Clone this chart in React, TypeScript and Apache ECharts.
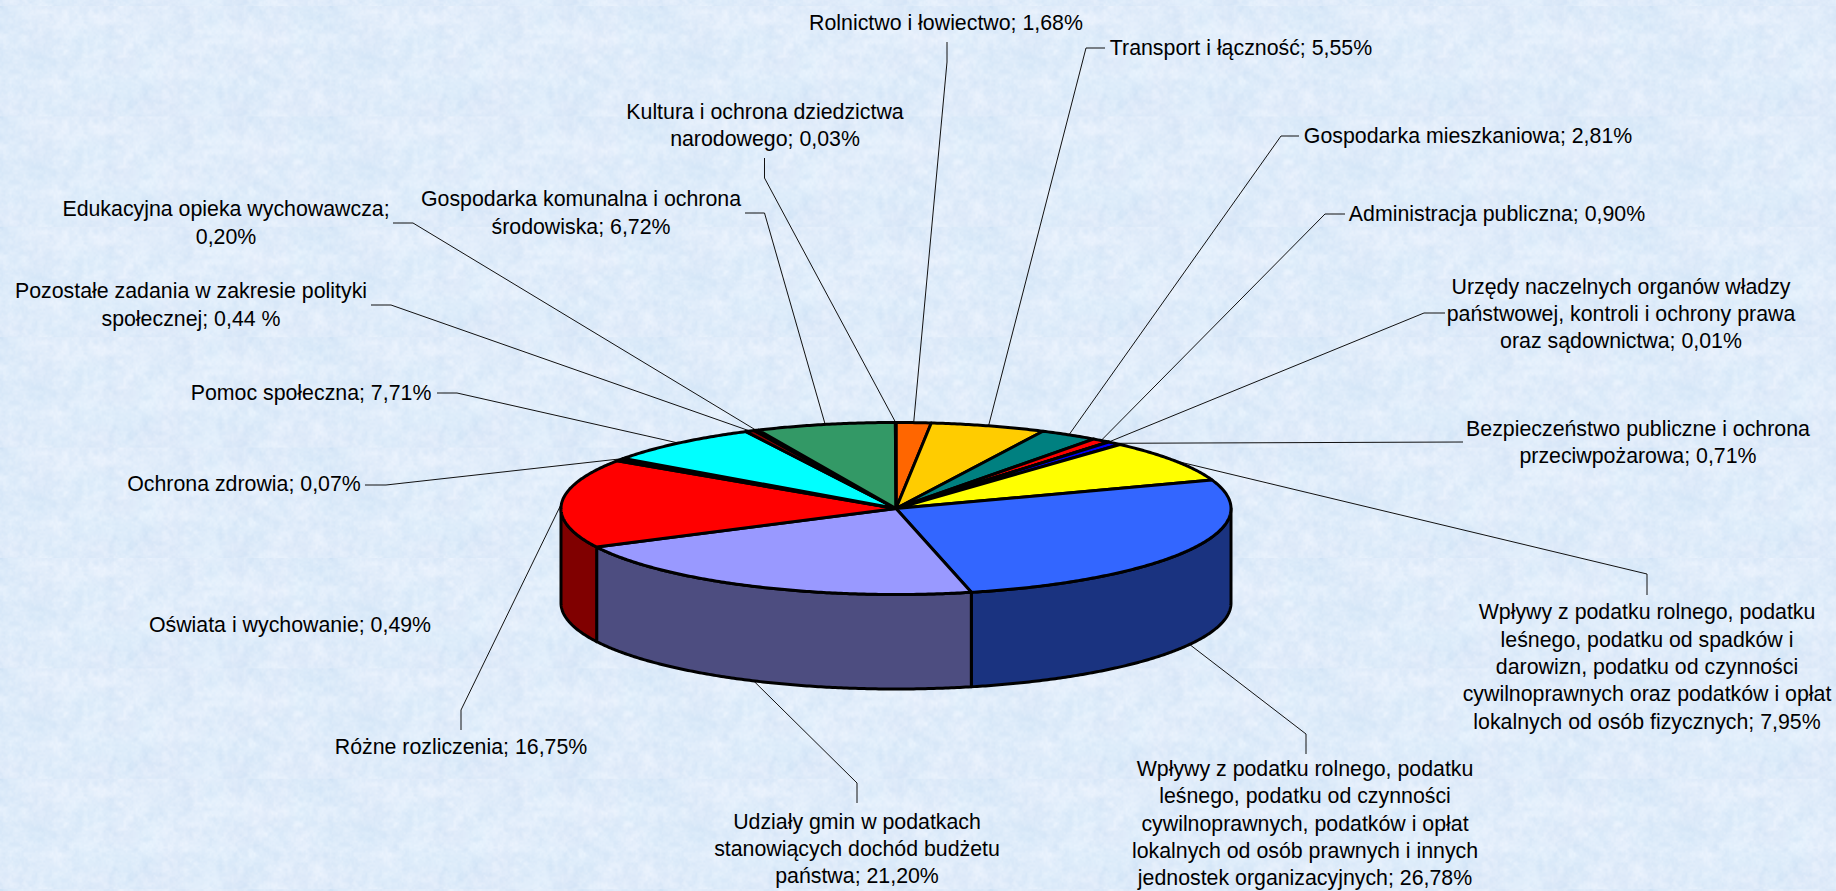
import React, { useEffect, useRef } from "react";
import * as echarts from "echarts";

// ---------- data (clockwise from 12 o'clock) ----------
const labels = [
  "Rolnictwo i łowiectwo; 1,68%",
  "Transport i łączność; 5,55%",
  "Gospodarka mieszkaniowa; 2,81%",
  "Administracja publiczna; 0,90%",
  "Urzędy naczelnych organów władzy\npaństwowej, kontroli i ochrony prawa\noraz sądownictwa; 0,01%",
  "Bezpieczeństwo publiczne i ochrona\nprzeciwpożarowa; 0,71%",
  "Wpływy z podatku rolnego, podatku\nleśnego, podatku od spadków i\ndarowizn, podatku od czynności\ncywilnoprawnych oraz podatków i opłat\nlokalnych od osób fizycznych; 7,95%",
  "Wpływy z podatku rolnego, podatku\nleśnego, podatku od czynności\ncywilnoprawnych, podatków i opłat\nlokalnych od osób prawnych i innych\njednostek organizacyjnych; 26,78%",
  "Udziały gmin w podatkach\nstanowiących dochód budżetu\npaństwa; 21,20%",
  "Różne rozliczenia; 16,75%",
  "Oświata i wychowanie; 0,49%",
  "Ochrona zdrowia; 0,07%",
  "Pomoc społeczna; 7,71%",
  "Pozostałe zadania w zakresie polityki\nspołecznej; 0,44 %",
  "Edukacyjna opieka wychowawcza;\n0,20%",
  "Gospodarka komunalna i ochrona\nśrodowiska; 6,72%",
  "Kultura i ochrona dziedzictwa\nnarodowego; 0,03%",
];
const values = [1.68, 5.55, 2.81, 0.9, 0.01, 0.71, 7.95, 26.78, 21.2, 16.75, 0.49, 0.07, 7.71, 0.44, 0.2, 6.72, 0.03];
const colors = [
  "#FF6600", "#FFCC00", "#008080", "#FF0000", "#993300", "#0000FF", "#FFFF00", "#3366FF", "#9999FF",
  "#FF0000", "#000000", "#000000", "#00FFFF", "#800000", "#006666", "#339966", "#000000",
];

// ---------- layout (pixels) ----------
const CX = 896, CY = 508.5, RX = 335, RY = 86, DEPTH = 94.5;
const labelCentres: number[][] = [
  [946, 23], [1241, 48], [1468, 136], [1497, 214], [1621, 314], [1638, 442.5], [1647, 667], [1305, 823.5],
  [857, 849], [461, 747], [290, 625], [244, 484], [311, 393], [191, 305], [226, 223], [581, 213], [765, 125.5],
];
const leaderStarts: (number[][] | null)[] = [
  [[947, 42], [947, 62]],
  [[1105, 48], [1086, 48]],
  [[1299, 136], [1281, 136]],
  [[1345, 214], [1325, 214]],
  [[1445, 313], [1424, 313]],
  [[1463, 442]],
  [[1647, 595], [1647, 574]],
  [[1306, 754], [1306, 734]],
  [[857, 803], [857, 783]],
  [[461, 730], [461, 710]],
  null,
  [[365, 485], [386, 485]],
  [[437, 393], [457, 393]],
  [[371, 305], [391, 305]],
  [[393, 223], [413, 223]],
  [[745, 213], [764.5, 213]],
  [[764.5, 158], [764.5, 178]],
];

const total = values.reduce((a, b) => a + b, 0);
const starts: number[] = [];
values.reduce((acc, v, i) => { starts[i] = acc; return acc + v; }, 0);
const angleOf = (share: number) => (share / total) * 360;
const rim = (deg: number, dy = 0) => {
  const r = (deg * Math.PI) / 180;
  return [CX + RX * Math.sin(r), CY - RY * Math.cos(r) + dy];
};
const arc = (a: number, b: number, dy = 0) => {
  const n = Math.max(1, Math.ceil(Math.abs(b - a) / 0.5));
  const pts: number[][] = [];
  for (let i = 0; i <= n; i++) pts.push(rim(a + ((b - a) * i) / n, dy));
  return pts;
};
const darken = (hex: string) => {
  const n = parseInt(hex.slice(1), 16);
  const f = (v: number) => Math.round(v * 0.5).toString(16).padStart(2, "0");
  return "#" + f((n >> 16) & 255) + f((n >> 8) & 255) + f(n & 255);
};

// Paper-like mottled tile for the page background (deterministic).
function makeTile(): string {
  const W = 330, H = 110;
  const c = document.createElement("canvas");
  c.width = W; c.height = H;
  const ctx = c.getContext("2d")!;
  const img = ctx.createImageData(W, H);
  const hash = (x: number, y: number) => {
    const s = Math.sin(x * 127.1 + y * 311.7) * 43758.5453;
    return s - Math.floor(s);
  };
  const noise = (x: number, y: number, cell: number) => {
    const gx = x / cell, gy = y / cell;
    const ix = Math.floor(gx), iy = Math.floor(gy);
    const fx = gx - ix, fy = gy - iy;
    const sx = fx * fx * (3 - 2 * fx), sy = fy * fy * (3 - 2 * fy);
    const mx = Math.ceil(W / cell);
    const h = (a: number, b: number) => hash(a % mx, b);
    return (h(ix, iy) * (1 - sx) + h(ix + 1, iy) * sx) * (1 - sy) + (h(ix, iy + 1) * (1 - sx) + h(ix + 1, iy + 1) * sx) * sy;
  };
  for (let y = 0; y < H; y++) {
    for (let x = 0; x < W; x++) {
      const n = (noise(x, y, 33) - 0.5) * 0.3 + (noise(x, y, 11) - 0.5) * 0.45 + (noise(x, y, 5) - 0.5) * 0.55 + (noise(x, y, 2) - 0.5) * 0.35;
      const p = (noise(x + 7, y + 31, 22) - 0.5) * 5;
      const i = (y * W + x) * 4;
      img.data[i] = 223 + n * 20 + p;
      img.data[i + 1] = 236 + n * 13;
      img.data[i + 2] = 250 + n * 6;
      img.data[i + 3] = 255;
    }
  }
  ctx.putImageData(img, 0, 0);
  return c.toDataURL("image/png");
}

export default function App() {
  const ref = useRef<HTMLDivElement>(null);
  useEffect(() => {
    document.body.style.margin = "0";
    const el = ref.current!;
    el.style.backgroundImage = `url(${makeTile()})`;
    el.style.backgroundSize = "330px 110.4px";
    el.style.backgroundPosition = "0 6px";
    const chart = echarts.init(el, undefined, { renderer: "svg" });

    const strokeStyle = { stroke: "#000", lineWidth: 3, lineJoin: "round" };
    const data = values.map((v, i) => ({ value: v, name: labels[i] }));

    const leaders: any[] = [];
    const texts: any[] = [];
    labels.forEach((t, i) => {
      const [x, y] = labelCentres[i];
      texts.push({
        type: "text", x, y, silent: true, z: 10,
        style: {
          text: t, align: "center", verticalAlign: "middle", fill: "#000",
          fontFamily: "'Liberation Sans', Arial, sans-serif", fontSize: 21.33, lineHeight: 27.3,
        },
      });
      const head = leaderStarts[i];
      if (!head) return;
      const mid = angleOf(starts[i] + values[i] / 2);
      const front = mid > 90 && mid < 270;
      leaders.push({
        type: "polyline", silent: true, z: 1,
        shape: { points: [...head, rim(mid, front ? DEPTH : 0)] },
        style: { stroke: "#111", lineWidth: 1, fill: "none" },
      });
    });

    chart.setOption({
      animation: false,
      backgroundColor: "transparent",
      tooltip: { show: false },
      graphic: [...leaders, ...texts],
      series: [
        {
          type: "custom", name: "wall", coordinateSystem: "none", silent: true, z: 3, data,
          renderItem: (p: any) => {
            const i = p.dataIndex;
            const a = Math.max(angleOf(starts[i]), 90);
            const b = Math.min(angleOf(starts[i] + values[i]), 270);
            if (b <= a) return null;
            return {
              type: "polygon",
              shape: { points: [...arc(a, b), ...arc(b, a, DEPTH)] },
              style: { fill: darken(colors[i]), ...strokeStyle },
            };
          },
        },
        {
          type: "custom", name: "top", coordinateSystem: "none", silent: true, z: 4, data,
          renderItem: (p: any) => {
            const i = p.dataIndex;
            const a = angleOf(starts[i]);
            const b = angleOf(starts[i] + values[i]);
            return {
              type: "polygon",
              shape: { points: [[CX, CY], ...arc(a, b)] },
              style: { fill: colors[i], ...strokeStyle },
            };
          },
        },
      ],
    });
    return () => chart.dispose();
  }, []);
  return <div ref={ref} style={{ width: 1836, height: 891, overflow: "hidden", backgroundColor: "#dceaf8" }} />;
}
